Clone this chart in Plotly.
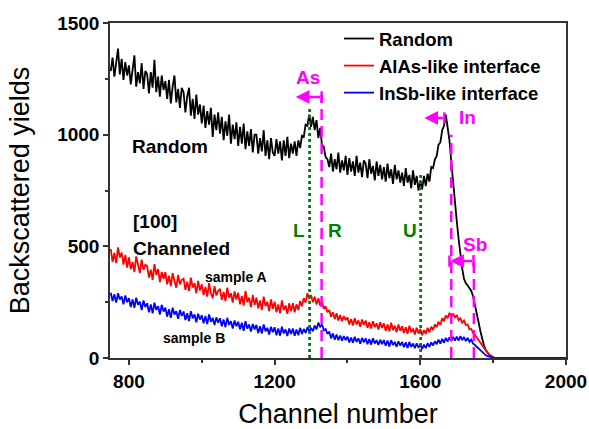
import plotly.graph_objects as go

# ---------------- data ----------------
channels = list(range(750, 1801, 5))

random_yield = [
    1285, 1345, 1260, 1330, 1385, 1270, 1340, 1245, 1325, 1265,
    1310, 1225, 1290, 1355, 1215, 1280, 1230, 1320, 1205, 1285,
    1270, 1185, 1280, 1210, 1335, 1190, 1260, 1170, 1265, 1200,
    1240, 1160, 1245, 1140, 1215, 1265, 1145, 1205, 1120, 1210,
    1190, 1100, 1170, 1210, 1085, 1160, 1070, 1180, 1090, 1135,
    1050, 1130, 1030, 1105, 1045, 1120, 990, 1090, 1020, 1100,
    1005, 1080, 975, 1060, 995, 1090, 960, 1045, 980, 1055,
    950, 1035, 960, 1050, 935, 1015, 950, 1025, 920, 1000,
    1000, 915, 985, 925, 1020, 905, 975, 890, 985, 920,
    905, 980, 915, 970, 885, 975, 905, 990, 895, 960,
    915, 970, 905, 975, 940, 995, 990, 1045, 1040, 1090,
    1035, 1080, 1020, 1065, 985, 1030, 955, 945, 900, 890,
    855, 915, 835, 890, 845, 920, 830, 885, 840, 905,
    820, 895, 835, 880, 815, 905, 830, 875, 810, 885,
    870, 805, 890, 825, 860, 795, 880, 815, 865, 800,
    855, 790, 870, 805, 845, 780, 865, 800, 840, 785,
    830, 770, 850, 785, 820, 760, 840, 775, 815, 750,
    795, 755, 815, 770, 825, 790, 855, 850, 890, 905,
    955, 965, 1020, 1040, 1090, 1025, 975, 880, 780, 700,
    615, 535, 465, 400, 355, 335, 325, 315, 300, 275,
    240, 200, 160, 120, 82, 55, 35, 20, 12, 6, 3,
]

alas_yield = [
    488, 430, 470, 425, 495, 450, 472, 418, 462, 405,
    450, 398, 430, 385, 455, 412, 380, 440, 395, 418,
    412, 360, 395, 350, 420, 372, 398, 340, 385, 355,
    385, 330, 368, 322, 380, 345, 315, 372, 330, 350,
    355, 305, 342, 300, 360, 315, 335, 290, 345, 302,
    330, 282, 318, 275, 335, 290, 268, 322, 280, 300,
    310, 260, 296, 255, 315, 270, 290, 248, 298, 262,
    292, 240, 278, 235, 300, 250, 270, 228, 282, 238,
    270, 222, 258, 215, 275, 232, 252, 210, 262, 220,
    252, 205, 240, 200, 258, 215, 235, 198, 245, 210,
    245, 205, 240, 215, 255, 232, 268, 248, 290, 265,
    282, 250, 275, 240, 268, 235, 255, 220, 232, 205,
    215, 185, 205, 175, 200, 168, 192, 165, 188, 170,
    182, 150, 175, 145, 178, 150, 168, 140, 172, 148,
    168, 135, 160, 132, 165, 138, 155, 128, 160, 135,
    155, 122, 150, 120, 158, 125, 145, 115, 150, 122,
    142, 112, 138, 108, 145, 115, 132, 105, 135, 110,
    130, 102, 125, 108, 135, 115, 140, 125, 150, 138,
    162, 148, 178, 165, 190, 178, 202, 185, 198, 182,
    192, 170, 178, 158, 168, 148, 150, 128, 130, 112,
    105, 92, 80, 68, 55, 42, 32, 22, 15, 8, 4,
]

insb_yield = [
    292, 255, 285, 248, 290, 262, 275, 240, 280, 250,
    268, 228, 262, 225, 270, 238, 252, 215, 258, 228,
    245, 205, 240, 200, 248, 215, 232, 195, 238, 208,
    225, 185, 218, 180, 225, 195, 210, 175, 215, 188,
    208, 170, 200, 165, 210, 178, 195, 160, 198, 172,
    192, 155, 188, 152, 195, 162, 180, 148, 182, 158,
    178, 142, 172, 138, 180, 148, 165, 132, 168, 142,
    162, 128, 158, 122, 165, 132, 150, 118, 152, 128,
    148, 112, 142, 110, 150, 120, 135, 105, 140, 115,
    138, 102, 132, 100, 140, 110, 128, 98, 132, 108,
    132, 100, 128, 102, 135, 108, 130, 112, 138, 118,
    135, 120, 145, 128, 158, 140, 150, 125, 130, 108,
    118, 88, 110, 82, 105, 80, 100, 78, 98, 80,
    96, 70, 92, 68, 95, 72, 88, 64, 90, 70,
    88, 62, 85, 60, 88, 65, 80, 58, 82, 62,
    80, 55, 78, 52, 80, 58, 72, 50, 75, 55,
    72, 48, 70, 45, 72, 50, 65, 44, 66, 46,
    62, 40, 60, 44, 66, 50, 70, 56, 75, 62,
    82, 64, 86, 68, 90, 74, 92, 76, 95, 78,
    96, 78, 98, 80, 94, 76, 90, 72, 82, 64,
    58, 50, 40, 32, 25, 18, 12, 8, 5, 3, 2,
]

tail_channels = [1805, 2000]
tail_yield = [0, 0]

series_names = ["Random", "AlAs-like interface", "InSb-like interface"]

# marker lines: (channel, top yield)
green_lines = [(1296, 1120), (1601, 833)]
magenta_lines = [(1329, 1178), (1685, 1000), (1747, 460)]

x_ticks = [800, 1200, 1600, 2000]
y_ticks = [0, 500, 1000, 1500]

assert len(random_yield) == len(channels)
assert len(alas_yield) == len(channels)
assert len(insb_yield) == len(channels)

FONT = "Liberation Sans, Arial, sans-serif"
MAG = "#FF00FF"
GRN = "#008000"
AX = "#333333"

fig = go.Figure()
fig.add_trace(go.Scatter(x=channels, y=random_yield, mode="lines", name=series_names[0],
                         line=dict(color="black", width=1.8)))
fig.add_trace(go.Scatter(x=channels + tail_channels, y=alas_yield + tail_yield, mode="lines",
                         name=series_names[1], line=dict(color="#FF0000", width=1.8)))
fig.add_trace(go.Scatter(x=channels + tail_channels, y=insb_yield + tail_yield, mode="lines",
                         name=series_names[2], line=dict(color="#0000FF", width=1.8)))

shapes = []
for ch, top in green_lines:
    shapes.append(dict(type="line", xref="x", yref="y", x0=ch, x1=ch, y0=0, y1=top,
                       line=dict(color=GRN, width=2.8, dash="3px,3px")))
for ch, top in magenta_lines:
    shapes.append(dict(type="line", xref="x", yref="y", x0=ch, x1=ch, y0=0, y1=top,
                       line=dict(color=MAG, width=2.5, dash="11px,6px")))

# arrows: (tip channel, tail channel, yield, bar channels)
arrows = [
    (1258, 1329, 1169, [1329]),
    (1611, 1666, 1075, [1666]),
    (1682, 1746, 434, [1680, 1746]),
]
annotations = []
for tip, tail, yv, bars in arrows:
    annotations.append(dict(x=tip, y=yv, ax=tail, ay=yv, xref="x", yref="y", axref="x", ayref="y",
                            showarrow=True, arrowhead=2, arrowsize=1.1, arrowwidth=2.5,
                            arrowcolor=MAG, text=""))
    for b in bars:
        shapes.append(dict(type="line", xref="x", yref="y", x0=b, x1=b, y0=yv - 25, y1=yv + 25,
                           line=dict(color=MAG, width=2.5)))

def label(text, x, y, color="black", size=19, xanchor="center"):
    annotations.append(dict(x=x, y=y, xref="x", yref="y", text=text, showarrow=False,
                            xanchor=xanchor, yanchor="middle",
                            font=dict(family=FONT, size=size, color=color, weight="bold")))

label("Random", 803, 945, xanchor="left")
label("[100]", 806, 609, xanchor="left")
label("Channeled", 806, 492, xanchor="left")
label("sample A", 1095, 363, size=14)
label("sample B", 979, 90, size=14)
label("As", 1291, 1254, color=MAG)
label("In", 1730, 1075, color=MAG)
label("Sb", 1749, 506, color=MAG)
label("L", 1268, 573, color=GRN)
label("R", 1366, 573, color=GRN)
label("U", 1572, 573, color=GRN)

fig.update_layout(
    width=589, height=429,
    margin=dict(l=110, r=23, t=23, b=71),
    paper_bgcolor="white", plot_bgcolor="white",
    font=dict(family=FONT, color="black"),
    shapes=shapes, annotations=annotations,
    showlegend=True,
    legend=dict(x=(339 - 110) / 456, y=(358 - 20) / 335, xanchor="left", yanchor="top",
                bgcolor="rgba(0,0,0,0)", borderwidth=0, tracegroupgap=0,
                font=dict(family=FONT, size=18.5, color="black", weight="bold")),
    xaxis=dict(range=[748, 2000], tickmode="array", tickvals=x_ticks, automargin=False,
               ticks="outside", ticklen=5, tickwidth=1.5, tickcolor=AX,
               minor=dict(dtick=200, tick0=0, ticks="outside", ticklen=3, tickwidth=1.5, tickcolor=AX),
               showline=True, linecolor=AX, linewidth=1.5, mirror=True, showgrid=False, zeroline=False,
               tickfont=dict(family=FONT, size=19, color="black", weight="bold"),
               title=dict(text="Channel number", standoff=14,
                          font=dict(family=FONT, size=27, color="black"))),
    yaxis=dict(range=[0, 1500], tickmode="array", tickvals=y_ticks, automargin=False,
               ticks="outside", ticklen=5, tickwidth=1.5, tickcolor=AX,
               minor=dict(dtick=250, tick0=0, ticks="outside", ticklen=3, tickwidth=1.5, tickcolor=AX),
               showline=True, linecolor=AX, linewidth=1.5, mirror=True, showgrid=False, zeroline=False,
               tickfont=dict(family=FONT, size=19, color="black", weight="bold"),
               title=dict(text="Backscattered yields", standoff=20,
                          font=dict(family=FONT, size=27, color="black"))),
)

fig.write_html("out.html")
